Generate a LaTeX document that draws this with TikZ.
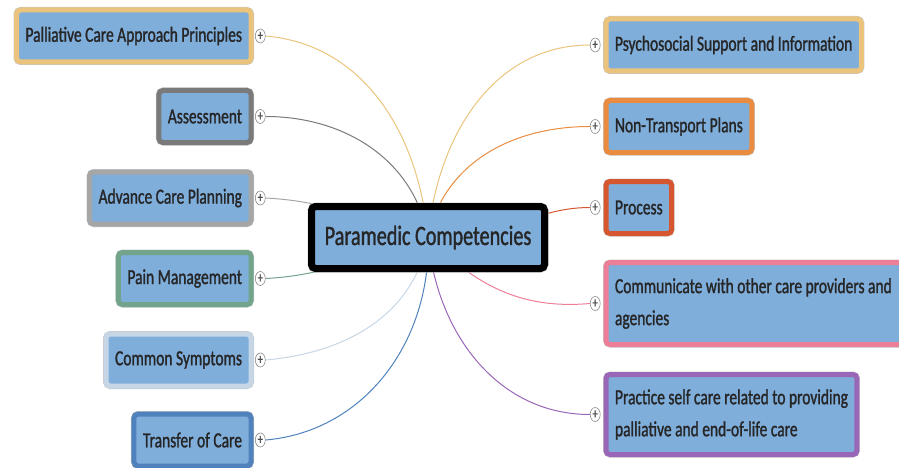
\documentclass[tikz,border=0pt]{standalone}
\usepackage{fontspec}
\setmainfont{Carlito}[FakeStretch=0.72, FakeBold=1.2]
\usetikzlibrary{positioning,backgrounds,shapes.geometric}

\definecolor{topicblue}{HTML}{7FAEDB}
\definecolor{topictext}{HTML}{262626}
\definecolor{goldc}{HTML}{EAC47C}
\definecolor{darkgrayc}{HTML}{7A7A7A}
\definecolor{grayc}{HTML}{A6A6A6}
\definecolor{greenc}{HTML}{72A48C}
\definecolor{paleblue}{HTML}{C6D6E7}
\definecolor{bluec}{HTML}{4F82BC}
\definecolor{orangec}{HTML}{E98C3F}
\definecolor{redc}{HTML}{D6572F}
\definecolor{pinkc}{HTML}{EC7F97}
\definecolor{purplec}{HTML}{9966B8}

\tikzset{
  topic/.style={draw=#1, line width=5pt, fill=topicblue, rounded corners=4pt,
    minimum height=52pt, inner xsep=9pt, text=topictext,
    font=\fontsize{21.5}{32}\selectfont,
    preaction={draw=black!22, line width=6pt}},
  plus/.style={ellipse, draw=black!45, fill=white, line width=0.6pt,
    inner sep=0pt, minimum width=10pt, minimum height=14pt, text=black!70,
    font=\fontsize{15}{15}\selectfont},
  link/.style={draw=#1, line width=1pt}
}

\begin{document}
\begin{tikzpicture}[x=1pt, y=-1pt]
  \clip (0,0) rectangle (899,468);

  % central topic
  \node[topic=black, line width=7pt, minimum width=233pt, minimum height=62pt,
    font=\fontsize{28}{32}\selectfont, preaction={draw=black!22, line width=8pt}]
    (root) at (428,237.5) {Paramedic Competencies};

  % left branches
  \node[topic=goldc, anchor=east] (lb1) at (253.5,36) {Palliative Care Approach Principles};
  \node[topic=darkgrayc, anchor=east] (lb2) at (253.5,116.5) {Assessment};
  \node[topic=grayc, anchor=east] (lb3) at (253.5,198) {Advance Care Planning};
  \node[topic=greenc, anchor=east] (lb4) at (253.5,278.5) {Pain Management};
  \node[topic=paleblue, anchor=east] (lb5) at (253.5,360) {Common Symptoms};
  \node[topic=bluec, anchor=east] (lb6) at (253.5,440) {Transfer of Care};

  \foreach \i in {1,...,6}
    \node[plus, right=1.5pt of lb\i] (lp\i) {+};

  % right branches
  \node[topic=goldc, anchor=west] (rb1) at (603.5,45) {Psychosocial Support and Information};
  \node[topic=orangec, anchor=west] (rb2) at (603.5,126.5) {Non-Transport Plans};
  \node[topic=redc, anchor=west] (rb3) at (603.5,207.5) {Process};
  \node[topic=pinkc, anchor=west, text width=300pt, align=flush left, minimum height=82pt]
    (rb4) at (603.5,303.5) {Communicate with other care providers and\\agencies};
  \node[topic=purplec, anchor=west, align=left, minimum height=80pt]
    (rb5) at (603.5,414.5) {Practice self care related to providing\\palliative and end-of-life care};

  \foreach \i in {1,...,5}
    \node[plus, left=3pt of rb\i] (rp\i) {+};

  % connectors
  \begin{scope}[on background layer]
    \draw[link=goldc] (root.center) to[out=95, in=-5] (lp1.east);
    \draw[link=darkgrayc] (root.center) to[out=100, in=0] (lp2.east);
    \draw[link=grayc] (root.center) to[out=165, in=-3] (lp3.east);
    \draw[link=greenc] (root.center) to[out=195, in=3] (lp4.east);
    \draw[link=paleblue] (root.center) to[out=-100, in=5] (lp5.east);
    \draw[link=bluec] (root.center) to[out=-88, in=5] (lp6.east);
    \draw[link=goldc] (root.center) to[out=85, in=180] (rp1.west);
    \draw[link=orangec] (root.center) to[out=78, in=180] (rp2.west);
    \draw[link=redc] (root.center) to[out=-10, in=180] (rp3.west);
    \draw[link=pinkc] (root.center) to[out=-45, in=185] (rp4.west);
    \draw[link=purplec] (root.center) to[out=-85, in=180] (rp5.west);
  \end{scope}
\end{tikzpicture}
\end{document}
